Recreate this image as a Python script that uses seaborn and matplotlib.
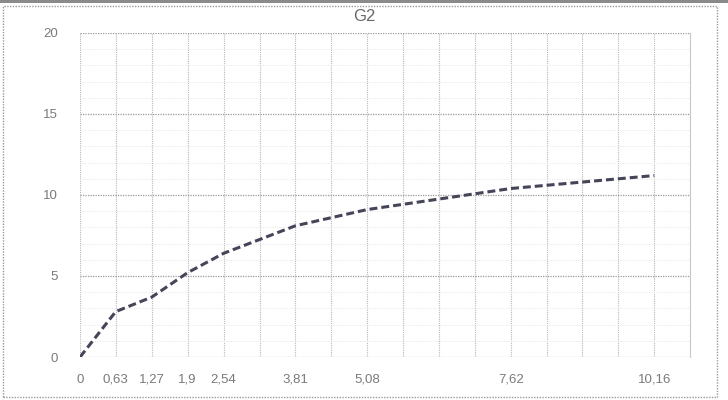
import matplotlib
matplotlib.use("Agg")
import matplotlib.pyplot as plt
import seaborn as sns
import pandas as pd
import numpy as np
from matplotlib.patches import Rectangle

# Data
x_values = [0, 0.63, 1.27, 1.9, 2.54, 3.81, 5.08, 7.62, 10.16]
y_values = [0, 2.8, 3.7, 5.2, 6.4, 8.1, 9.1, 10.4, 11.2]
x_tick_labels = ["0", "0,63", "1,27", "1,9", "2,54", "3,81", "5,08", "7,62", "10,16"]
y_ticks = [0, 5, 10, 15, 20]
title = "G2"

df = pd.DataFrame({"x": x_values, "y": y_values})

sns.set_style("white")
plt.rcParams["font.family"] = ["Liberation Sans", "DejaVu Sans"]

fig = plt.figure(figsize=(7.28, 4.0), dpi=100)
ax = fig.add_axes([0.110, 0.1075, 0.838, 0.81])

# grid: vertical every 0.635, horizontal minor every 1, major every 5
step = 0.635
for k in range(0, 18):
    ax.axvline(k * step, color="#b8b8b8", lw=0.8, ls=(0, (1, 1)), zorder=1)
for v in range(0, 21):
    if v % 5 == 0:
        ax.axhline(v, color="#9a9a9a", lw=0.9, ls=(0, (1, 1)), zorder=1)
    else:
        ax.axhline(v, color="#e4e4e4", lw=0.7, ls=(0, (1, 1.5)), zorder=1)

sns.lineplot(data=df, x="x", y="y", ax=ax, color="#45455a", lw=2.2,
             dashes=False, zorder=3)
ax.lines[-1].set_dashes([2.6, 1.3])

ax.set_xlim(0, 17 * step)
ax.set_ylim(0, 20)
ax.set_xticks(x_values)
ax.set_xticklabels(x_tick_labels)
ax.set_yticks(y_ticks)
ax.set_yticklabels([str(t) for t in y_ticks])
ax.tick_params(axis="both", length=0, labelsize=9.5, colors="#7a7a7a")
ax.tick_params(axis="x", pad=12)
ax.tick_params(axis="y", pad=16)
ax.set_xlabel("")
ax.set_ylabel("")
for s in ax.spines.values():
    s.set_visible(False)
ax.spines["right"].set_visible(True)
ax.spines["right"].set_color("#c8c8c8")
ax.spines["right"].set_linewidth(0.8)

fig.text(0.5, 0.958, title, ha="center", va="center", fontsize=12, color="#6a6a6a")

# outer frame
fig.patches.append(Rectangle((0.004, 0.008), 0.981, 0.978, transform=fig.transFigure,
                             fill=False, ec="#9a9a9a", lw=1.0, ls=(0, (1, 1))))
fig.patches.append(Rectangle((0.0, 0.993), 1.0, 0.007, transform=fig.transFigure,
                             fill=True, fc="#8a8a8a", ec="none"))

fig.savefig("out.png", dpi=100)
